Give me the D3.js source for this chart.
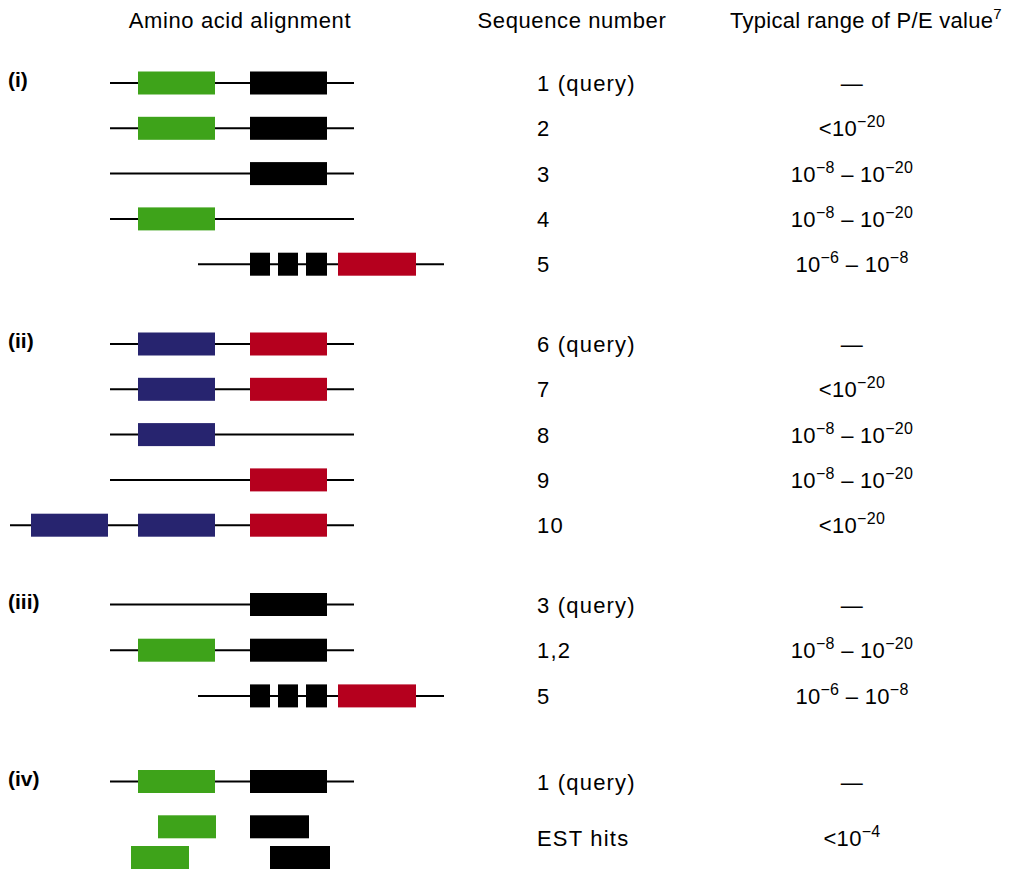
<!DOCTYPE html>
<html><head><meta charset="utf-8">
<script src="https://cdn.jsdelivr.net/npm/d3@7"></script>
<style>
html,body{margin:0;padding:0;background:#fff;}
text{font-family:"Liberation Sans",Arial,Helvetica,sans-serif;fill:#000;}
</style></head>
<body><div id="chart"></div>
<script>
// ---------- data ----------
const headers = ["Amino acid alignment", "Sequence number", "Typical range of P/E value"];
const headerSup = "7";
const groupLabels = ["(i)", "(ii)", "(iii)", "(iv)"];
// row group index and sequence label
const rowGroup = [0,0,0,0,0, 1,1,1,1,1, 2,2,2, 3,3,3];
const seqLabels = ["1 (query)","2","3","4","5","6 (query)","7","8","9","10","3 (query)","1,2","5","1 (query)","EST hits",""];
// P/E values, "^" marks an exponent
const peValues = [
  "—", "<10^-20", "10^-8 – 10^-20", "10^-8 – 10^-20", "10^-6 – 10^-8",
  "—", "<10^-20", "10^-8 – 10^-20", "10^-8 – 10^-20", "<10^-20",
  "—", "10^-8 – 10^-20", "10^-6 – 10^-8",
  "—", "<10^-4", ""
];
// backbone line extents (residue positions), null = no line
const rowLines = [
  [100,344],[100,344],[100,344],[100,344],[188,434],
  [100,344],[100,344],[100,344],[100,344],[0,344],
  [100,344],[100,344],[188,434],
  [100,344], null, null
];
// domains per row: [start, end, type]
const rowDomains = [
  [[128,205,"A"],[240,317,"B"]],
  [[128,205,"A"],[240,317,"B"]],
  [[240,317,"B"]],
  [[128,205,"A"]],
  [[240,260,"B"],[268,288,"B"],[296,317,"B"],[328,406,"C"]],
  [[128,205,"D"],[240,317,"C"]],
  [[128,205,"D"],[240,317,"C"]],
  [[128,205,"D"]],
  [[240,317,"C"]],
  [[21,98,"D"],[128,205,"D"],[240,317,"C"]],
  [[240,317,"B"]],
  [[128,205,"A"],[240,317,"B"]],
  [[240,260,"B"],[268,288,"B"],[296,317,"B"],[328,406,"C"]],
  [[128,205,"A"],[240,317,"B"]],
  [[148,206,"A"],[240,299,"B"]],
  [[121,179,"A"],[260,320,"B"]]
];
const domainTypes = ["A","B","C","D"];
const domainColors = ["#3ea31a","#000000","#b5001e","#27246f"];

// ---------- layout ----------
const W = 1012, H = 871;
const svg = d3.select("#chart").append("svg").attr("width", W).attr("height", H);
const x = d3.scaleLinear().domain([0, 444]).range([10, 454]);
const color = d3.scaleOrdinal().domain(domainTypes).range(domainColors);
const groupTop = [83, 344, 604.5, 781.5];
const step = 45.3;
const boxH = 23;
const withinIdx = [];
{ const c = {}; rowGroup.forEach((g,i)=>{ c[g]=(c[g]||0); withinIdx.push(c[g]); c[g]++; }); }
function rowY(i){
  const g = rowGroup[i], k = withinIdx[i];
  if (g === 3 && k === 2) return groupTop[g] + 76;   // second EST row
  return groupTop[g] + k*step + (g===2 ? k*0.4 : 0);
}

// headers
const hdrFont = 22;
svg.append("text").attr("x", 240).attr("y", 28).attr("text-anchor","middle")
  .style("font-size", hdrFont+"px").style("letter-spacing","0.6px").text(headers[0]);
svg.append("text").attr("x", 572).attr("y", 28).attr("text-anchor","middle")
  .style("font-size", hdrFont+"px").style("letter-spacing","0.6px").text(headers[1]);
const h3 = svg.append("text").attr("x", 866).attr("y", 28).attr("text-anchor","middle")
  .style("font-size", hdrFont+"px").style("letter-spacing","0.3px");
h3.append("tspan").text(headers[2]);
h3.append("tspan").attr("dy", -9).style("font-size","15px").text(headerSup);

// group labels
groupLabels.forEach((lab, g) => {
  svg.append("text").attr("x", 8).attr("y", groupTop[g] + 4)
    .style("font-size","21px").style("font-weight","bold").text(lab);
});

// rows
const rows = svg.selectAll("g.row").data(d3.range(rowGroup.length)).join("g").attr("class","row");
rows.each(function(i){
  const gsel = d3.select(this);
  const y = rowY(i);
  const ln = rowLines[i];
  if (ln) {
    gsel.append("line").attr("x1", x(ln[0])).attr("x2", x(ln[1]))
      .attr("y1", y).attr("y2", y).attr("stroke","#000").attr("stroke-width", 2);
  }
  gsel.selectAll("rect").data(rowDomains[i]).join("rect")
    .attr("x", d => x(d[0])).attr("width", d => x(d[1]) - x(d[0]))
    .attr("y", y - boxH/2).attr("height", boxH)
    .attr("fill", d => color(d[2]));
});

// sequence labels
const labelY = i => (rowGroup[i]===3 && withinIdx[i]===1) ? rowY(i) + 19 : rowY(i) + 8;
seqLabels.forEach((s, i) => {
  if (!s) return;
  svg.append("text").attr("x", 537).attr("y", labelY(i))
    .style("font-size","22px").style("letter-spacing","1.2px").text(s);
});

// P/E values with superscripts
peValues.forEach((v, i) => {
  if (!v) return;
  const t = svg.append("text").attr("x", 852).attr("y", labelY(i)).attr("text-anchor","middle")
    .style("font-size","22px").style("letter-spacing","0.3px");
  const parts = v.split(/(\^-?\d+)/);
  let sup = false;
  parts.forEach(p => {
    if (!p) return;
    if (p[0] === "^") {
      t.append("tspan").attr("dy", -9).style("font-size","16px").text(p.slice(1).replace("-", "−"));
      sup = true;
    } else {
      const ts = t.append("tspan").text(p);
      if (sup) { ts.attr("dy", 9); sup = false; }
    }
  });
});
</script></body></html>
